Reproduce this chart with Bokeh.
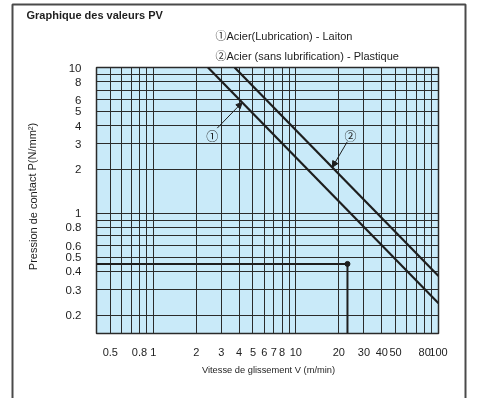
from bokeh.plotting import figure
from bokeh.models import (FixedTicker, Range1d, Arrow, NormalHead,
                          CustomJSTickFormatter)
from bokeh.embed import file_html
from bokeh.resources import INLINE
from bokeh.core.properties import value

# ---- data -------------------------------------------------------------
v_min, v_max = 0.4, 100
p_min, p_max = 0.15, 10
x_ticks = [0.5, 0.8, 1, 2, 3, 4, 5, 6, 7, 8, 10, 20, 30, 40, 50, 80, 100]
x_grid = [0.5, 0.6, 0.7, 0.8, 0.9, 1, 2, 3, 4, 5, 6, 7, 8, 9, 10,
          20, 30, 40, 50, 60, 70, 80, 90]
y_ticks = [0.2, 0.3, 0.4, 0.5, 0.6, 0.8, 1, 2, 3, 4, 5, 6, 8, 10]
y_grid = [0.2, 0.3, 0.4, 0.5, 0.6, 0.7, 0.8, 0.9, 1, 2, 3, 4, 5, 6, 7, 8, 9]

line1_v = [2.42, 100]
line1_p = [10, 0.242]
line2_v = [3.72, 100]
line2_p = [10, 0.372]

op_v = 23
op_p = 0.45

mark1 = (2.59, 3.35)
mark2 = (24.2, 3.35)
lead1 = ((2.81, 3.84), (4.2, 5.76))
lead2 = ((22.9, 3.09), (18.0, 2.07))

title = "Graphique des valeurs PV"
legend1 = "\u2460Acier(Lubrication) - Laiton"
legend2 = "\u2461Acier (sans lubrification) - Plastique"
xlabel = "Vitesse de glissement V (m/min)"
ylabel = "Pression de contact P(N/mm\u00b2)"

FONT = "Liberation Sans"
FONT_MIX = "Liberation Sans, Noto Sans CJK JP"
INK = "#1e1e1e"
W, H = 485, 398
FIXED = {"position": "fixed", "left": "0px", "top": "0px"}

# ---- background sheet: outer frame and free texts (pixel space) --------
bg = figure(width=W, height=H, x_range=Range1d(0, W), y_range=Range1d(H, 0),
            output_backend="svg", toolbar_location=None,
            x_axis_location=None, y_axis_location=None,
            min_border=0, outline_line_color=None)
bg.styles = dict(FIXED)
bg.grid.visible = False
bg.background_fill_color = "white"
bg.border_fill_color = "white"

bg.line([12, 12, 465, 465], [H + 5, 4, 4, H + 5], line_width=2, color="#4a4a4a")

bg.text(x=[26], y=[14], text=[title], text_font=value(FONT),
        text_font_style="bold", text_font_size="11px", text_color=INK,
        text_baseline="middle")
bg.text(x=[215, 215], y=[35, 55], text=[legend1, legend2], text_font=value(FONT_MIX),
        text_font_size="11px", text_color=INK, text_baseline="middle")
bg.text(x=[268], y=[369], text=[xlabel], text_font=value(FONT),
        text_font_size="9.3px", text_color=INK, text_baseline="middle",
        text_align="center")
bg.text(x=[32], y=[196], text=[ylabel], text_font=value(FONT),
        text_font_size="11px", text_color=INK, text_baseline="middle",
        text_align="center", angle=1.5708)

# ---- chart ------------------------------------------------------------
p = figure(width=W, height=H, x_axis_type="log", y_axis_type="log",
           x_range=Range1d(v_min, v_max), y_range=Range1d(p_min, p_max),
           output_backend="svg", toolbar_location=None,
           min_border_left=96, min_border_right=47,
           min_border_top=67, min_border_bottom=65)
p.styles = dict(FIXED)

p.background_fill_color = "#c9eaf9"
p.border_fill_color = None
p.outline_line_color = "#2a2a2a"
p.outline_line_width = 1.5

fmt = CustomJSTickFormatter(code="return String(tick)")
for ax, ticks in ((p.xaxis[0], x_ticks), (p.yaxis[0], y_ticks)):
    ax.ticker = FixedTicker(ticks=ticks)
    ax.formatter = fmt
    ax.axis_line_color = None
    ax.major_tick_line_color = None
    ax.minor_tick_line_color = None
    ax.major_label_text_font = FONT
    ax.major_label_text_font_size = "11.5px"
    ax.major_label_text_color = INK
p.xaxis.major_label_text_font_size = "11px"
p.xaxis.major_label_standoff = 8
p.yaxis.major_label_standoff = 9

p.xgrid.ticker = FixedTicker(ticks=x_grid)
p.ygrid.ticker = FixedTicker(ticks=y_grid)
for g in (p.xgrid[0], p.ygrid[0]):
    g.grid_line_color = "#2b2b2b"
    g.grid_line_width = 1
    g.minor_grid_line_color = None

# main PV limit lines
p.line(line1_v, line1_p, line_width=2.2, color=INK)
p.line(line2_v, line2_p, line_width=2.2, color=INK)

# operating point example
p.line([v_min, op_v, op_v], [op_p, op_p, p_min], line_width=2, color=INK)
p.scatter([op_v], [op_p], size=5, color=INK)

# circled markers and leaders
p.text(x=[mark1[0], mark2[0]], y=[mark1[1], mark2[1]], text=["\u2460", "\u2461"],
       text_align="center", text_baseline="middle", text_font=value(FONT_MIX),
       text_font_size="12px", text_color=INK)
for (s, e) in (lead1, lead2):
    p.add_layout(Arrow(x_start=s[0], y_start=s[1], x_end=e[0], y_end=e[1],
                       line_width=1, line_color=INK,
                       end=NormalHead(size=6, fill_color=INK, line_color=INK)))

open("out.html", "w").write(file_html([bg, p], INLINE))
